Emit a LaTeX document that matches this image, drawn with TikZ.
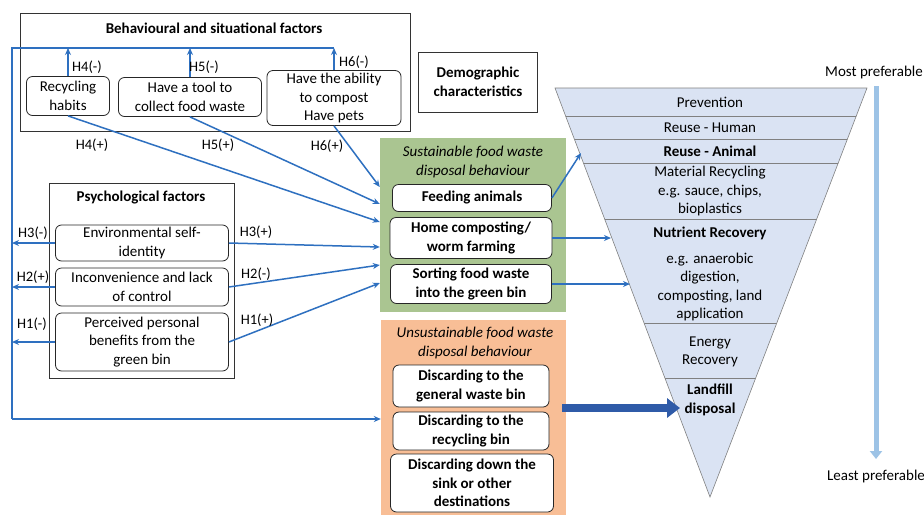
\documentclass[tikz,border=0pt]{standalone}
\usepackage{fontspec}
\setmainfont{Carlito}
\usetikzlibrary{arrows.meta,positioning}

\definecolor{linkblue}{RGB}{46,112,192}
\definecolor{susgreen}{RGB}{170,197,145}
\definecolor{unsusorange}{RGB}{248,190,150}
\definecolor{hierfill}{RGB}{218,227,243}
\definecolor{prefblue}{RGB}{157,195,230}
\definecolor{bigblue}{RGB}{47,91,168}
\newcommand{\basefs}{\fontsize{15}{18.5}\selectfont}

\begin{document}
\begin{tikzpicture}[
  x=1pt, y=-1pt,
  every node/.style={font=\basefs},
  frame/.style={draw=black!80, line width=0.9pt},
  item/.style={draw=black!85, rounded corners=6pt, fill=white, align=center,
               inner sep=1pt, line width=0.8pt},
  bolditem/.style={item, font=\basefs\bfseries},
  title/.style={font=\basefs\bfseries, align=center},
  ititle/.style={font=\basefs\itshape, align=center},
  lbl/.style={font=\fontsize{14.5}{16}\selectfont, inner sep=0pt},
  link/.style={draw=linkblue, line width=1.5pt},
  layer/.style={align=center, inner sep=0pt},
  >={Stealth[length=7pt,width=6pt]}
]
  \useasboundingbox[fill=white] (0,0) rectangle (924,515);

  % behavioural and situational factors
  \draw[frame] (20,13) rectangle (410,131);
  \node[title] (behav) at (214,28) {Behavioural and situational factors};
  \node[item, minimum width=83pt, minimum height=39pt]  (rec)  at (68,96)  {Recycling\\habits};
  \node[item, minimum width=143pt, minimum height=39pt] (tool) at (190,97) {Have a tool to\\collect food waste};
  \node[item, minimum width=134pt, minimum height=55pt] (comp) at (334,98) {Have the ability\\to compost\\Have pets};

  % psychological factors
  \draw[frame] (49,183) rectangle (234,378);
  \node[title] (psych) at (141,198) {Psychological factors};
  \node[item, minimum width=173pt, minimum height=36pt] (env)    at (142,243) {Environmental self-\\identity};
  \node[item, minimum width=173pt, minimum height=38pt] (inconv) at (142,287) {Inconvenience and lack\\of control};
  \node[item, minimum width=173pt, minimum height=58pt] (benef)  at (142,342) {Perceived personal\\benefits from the\\green bin};

  % demographic characteristics
  \node[frame, title, minimum width=119pt, minimum height=60pt] (demo) at (478,82) {Demographic\\characteristics};

  % sustainable behaviour
  \node[fill=susgreen, minimum width=186pt, minimum height=174pt] (sus) at (473,225) {};
  \node[ititle] (sustitle) at (473,162) {Sustainable food waste\\disposal behaviour};
  \node[bolditem, minimum width=159pt, minimum height=27pt] (feed) at (472,198) {Feeding animals};
  \node[bolditem, minimum width=162pt, minimum height=41pt] (home) at (471,238) {Home composting/\\worm farming};
  \node[bolditem, minimum width=161pt, minimum height=39pt] (sort) at (471,284) {Sorting food waste\\into the green bin};

  % unsustainable behaviour
  \node[fill=unsusorange, minimum width=185pt, minimum height=195pt] (unsus) at (473.5,417.5) {};
  \node[ititle] (unsustitle) at (475,343) {Unsustainable food waste\\disposal behaviour};
  \node[bolditem, minimum width=156pt, minimum height=42pt] (gen)   at (471,386) {Discarding to the\\general waste bin};
  \node[bolditem, minimum width=156pt, minimum height=38pt] (recyc) at (471,431) {Discarding to the\\recycling bin};
  \node[bolditem, minimum width=163pt, minimum height=58pt] (sink)  at (472,483) {Discarding down the\\sink or other\\destinations};

  % food waste hierarchy
  \coordinate (tl) at (555,88);
  \coordinate (tr) at (867,88);
  \coordinate (tip) at (710,497);
  \fill[hierfill] (tl) -- (tr) -- (tip) -- cycle;
  \begin{scope}
    \clip (tl) -- (tr) -- (tip) -- cycle;
    \foreach \y in {116,139,163,219,323,378}
      \draw[black!50, line width=0.6pt] (540,\y) -- (880,\y);
  \end{scope}
  \draw[black!50, line width=0.6pt] (tl) -- (tr) -- (tip) -- cycle;

  \node[layer] (prev)  at (710,102) {Prevention};
  \node[layer] (reuH)  at (710,128) {Reuse - Human};
  \node[layer, font=\basefs\bfseries] (reuA) at (710,151) {Reuse - Animal};
  \node[layer] (matR)  at (710,191) {Material Recycling\\e.g. sauce, chips,\\bioplastics};
  \node[layer, font=\basefs\bfseries] (nutR) at (710,233) {Nutrient Recovery};
  \node[layer] (nutEg) at (710,287) {e.g. anaerobic\\digestion,\\composting, land\\application};
  \node[layer] (enR)   at (710,352) {Energy\\Recovery};
  \node[layer, font=\basefs\bfseries] (land) at (710,400) {Landfill\\disposal};

  \coordinate (reAedge) at (581,153);
  \coordinate (nuEdge1) at (611,238);
  \coordinate (nuEdge2) at (630,284);
  \coordinate (lfEdge)  at (680,408);

  % preference scale
  \node (most)  at (874,72)  {Most preferable};
  \node (least) at (876,476) {Least preferable};
  \coordinate (prefTop) at (876,86);
  \coordinate (prefBot) at (876,459);
  \draw[prefblue, line width=5pt, -{Triangle[length=8pt,width=12pt]}] (prefTop) -- (prefBot);

  % feedback lines on the left
  \coordinate (fbTop) at (12,48);
  \coordinate (fbBot) at (12,419);
  \draw[link,->] (rec.north)  -- (rec.north |- fbTop);
  \draw[link,->] (tool.north) -- (tool.north |- fbTop);
  \draw[link,->] (comp.north) -- (comp.north |- fbTop);
  \draw[link] (comp.north |- fbTop) -- (fbTop) -- (fbBot);
  \draw[link,->] (fbBot) -- (fbBot -| unsus.west);
  \draw[link,->] (env.west)    -- (fbTop |- env.west);
  \draw[link,->] (inconv.west) -- (fbTop |- inconv.west);
  \draw[link,->] (benef.west)  -- (fbTop |- benef.west);

  % links into sustainable behaviour
  \draw[link,->] (rec.south)  -- (sus.west |- 0,222);
  \draw[link,->] (tool.south) -- (sus.west |- 0,204);
  \draw[link,->] (comp.south) -- (sus.west |- 0,187);
  \draw[link,->] (env.east)    -- (sus.west |- 0,247);
  \draw[link,->] (inconv.east) -- (sus.west |- 0,265);
  \draw[link,->] (benef.east)  -- (sus.west |- 0,283);

  % links into the hierarchy
  \draw[link,->] (feed.east) -- (reAedge);
  \draw[link,->] (home.east) -- (nuEdge1);
  \draw[link,->] (sort.east) -- (nuEdge2);
  \draw[bigblue, line width=8pt, -{Triangle[length=13pt,width=19pt]}] (lfEdge -| unsus.east) ++(-4,0) -- (lfEdge);

  % hypothesis labels
  \node[lbl] (h4m) at (87,67)  {H4(-)};
  \node[lbl] (h5m) at (204,67) {H5(-)};
  \node[lbl] (h6m) at (354,62) {H6(-)};
  \node[lbl] (h4p) at (92,145)  {H4(+)};
  \node[lbl] (h5p) at (218,145) {H5(+)};
  \node[lbl] (h6p) at (327,146) {H6(+)};
  \node[lbl] (h3m) at (33,233) {H3(-)};
  \node[lbl] (h2p) at (33,277) {H2(+)};
  \node[lbl] (h1m) at (32,324) {H1(-)};
  \node[lbl] (h3p) at (256,232) {H3(+)};
  \node[lbl] (h2m) at (256,274) {H2(-)};
  \node[lbl] (h1p) at (257,320) {H1(+)};
\end{tikzpicture}
\end{document}
